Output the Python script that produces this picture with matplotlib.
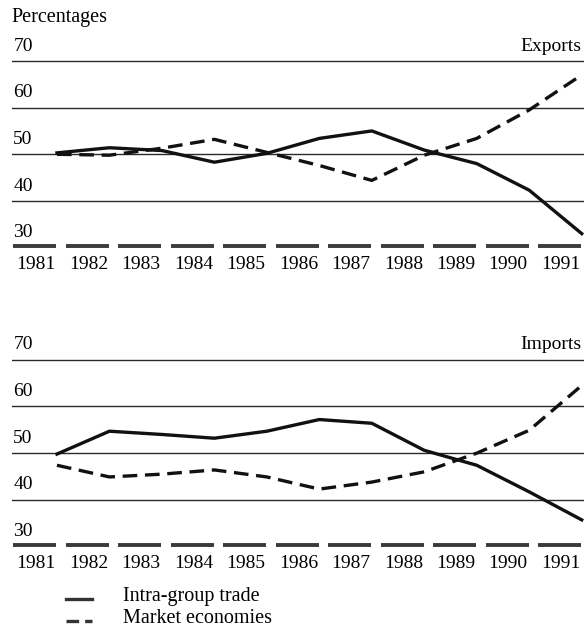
import matplotlib.pyplot as plt
from matplotlib.lines import Line2D

plt.rcParams['font.family'] = ['Liberation Serif', 'DejaVu Serif']

years = list(range(1981, 1992))
exports_intra = [50.3, 51.4, 50.8, 48.3, 50.2, 53.4, 55.0, 50.9, 48.0, 42.3, 33.0]
exports_market = [50.0, 49.8, 51.3, 53.2, 50.4, 47.6, 44.4, 49.8, 53.4, 59.5, 67.0]
imports_intra = [49.8, 54.7, 54.0, 53.2, 54.7, 57.2, 56.4, 50.6, 47.4, 41.7, 35.7]
imports_market = [47.4, 44.9, 45.5, 46.4, 44.9, 42.3, 43.8, 46.0, 50.0, 54.9, 64.5]
y_ticks = [30, 40, 50, 60, 70]
series_names = ['Intra-group trade', 'Market economies']

ink = '#111111'
dash = (0, (4.4, 2.3))


def draw_panel(ax, intra, market, title):
    x = [yr + 0.4 for yr in years]
    for v in y_ticks[1:]:
        ax.axhline(v, color='#2a2a2a', lw=1.0, zorder=1)
    # broken baseline bar under the year labels
    for yr in years:
        ax.hlines(30.4, yr - 0.43, yr + 0.39, color='#3a3a3a', lw=2.8,
                  capstyle='butt', clip_on=False, zorder=2)
    ax.plot(x, intra, color=ink, lw=2.4, zorder=3)
    ax.plot(x, market, color=ink, lw=2.4, linestyle=dash, zorder=3)

    ax.set_xlim(1980.543, 1991.438)
    ax.set_ylim(30, 74)
    ax.set_xticks(years)
    ax.set_xticklabels([str(yr) for yr in years], fontsize=14)
    ax.tick_params(axis='x', length=0, pad=6)
    ax.set_yticks([])
    for s in ax.spines.values():
        s.set_visible(False)

    for v in y_ticks:
        ax.annotate(str(v), xy=(0, v), xycoords=('axes fraction', 'data'),
                    xytext=(1, 7.5), textcoords='offset points',
                    ha='left', va='baseline', fontsize=14)
    ax.annotate(title, xy=(1, 70), xycoords=('axes fraction', 'data'),
                xytext=(-2, 7.5), textcoords='offset points',
                ha='right', va='baseline', fontsize=14)


fig = plt.figure(figsize=(5.84, 6.28), dpi=100)
ax1 = fig.add_axes([0.0205, 0.6057, 0.979, 0.3270])
ax2 = fig.add_axes([0.0205, 0.1298, 0.979, 0.3270])

draw_panel(ax1, exports_intra, exports_market, 'Exports')
draw_panel(ax2, imports_intra, imports_market, 'Imports')

fig.text(11 / 584, 1 - 22 / 628, 'Percentages', fontsize=14.5,
         ha='left', va='baseline')

# legend drawn by hand so the two rows sit close together
fig.add_artist(Line2D([66 / 584, 92 / 584], [1 - 599 / 628] * 2,
                      color='#333333', lw=2.4, transform=fig.transFigure))
fig.add_artist(Line2D([66 / 584, 92 / 584], [1 - 621 / 628] * 2,
                      color='#333333', lw=2.4, linestyle=(0, (3.8, 1.8)),
                      transform=fig.transFigure))
fig.text(123 / 584, 1 - 601 / 628, series_names[0], fontsize=14.5,
         ha='left', va='baseline')
fig.text(123 / 584, 1 - 623 / 628, series_names[1], fontsize=14.5,
         ha='left', va='baseline')

fig.savefig('out.png', dpi=100)
